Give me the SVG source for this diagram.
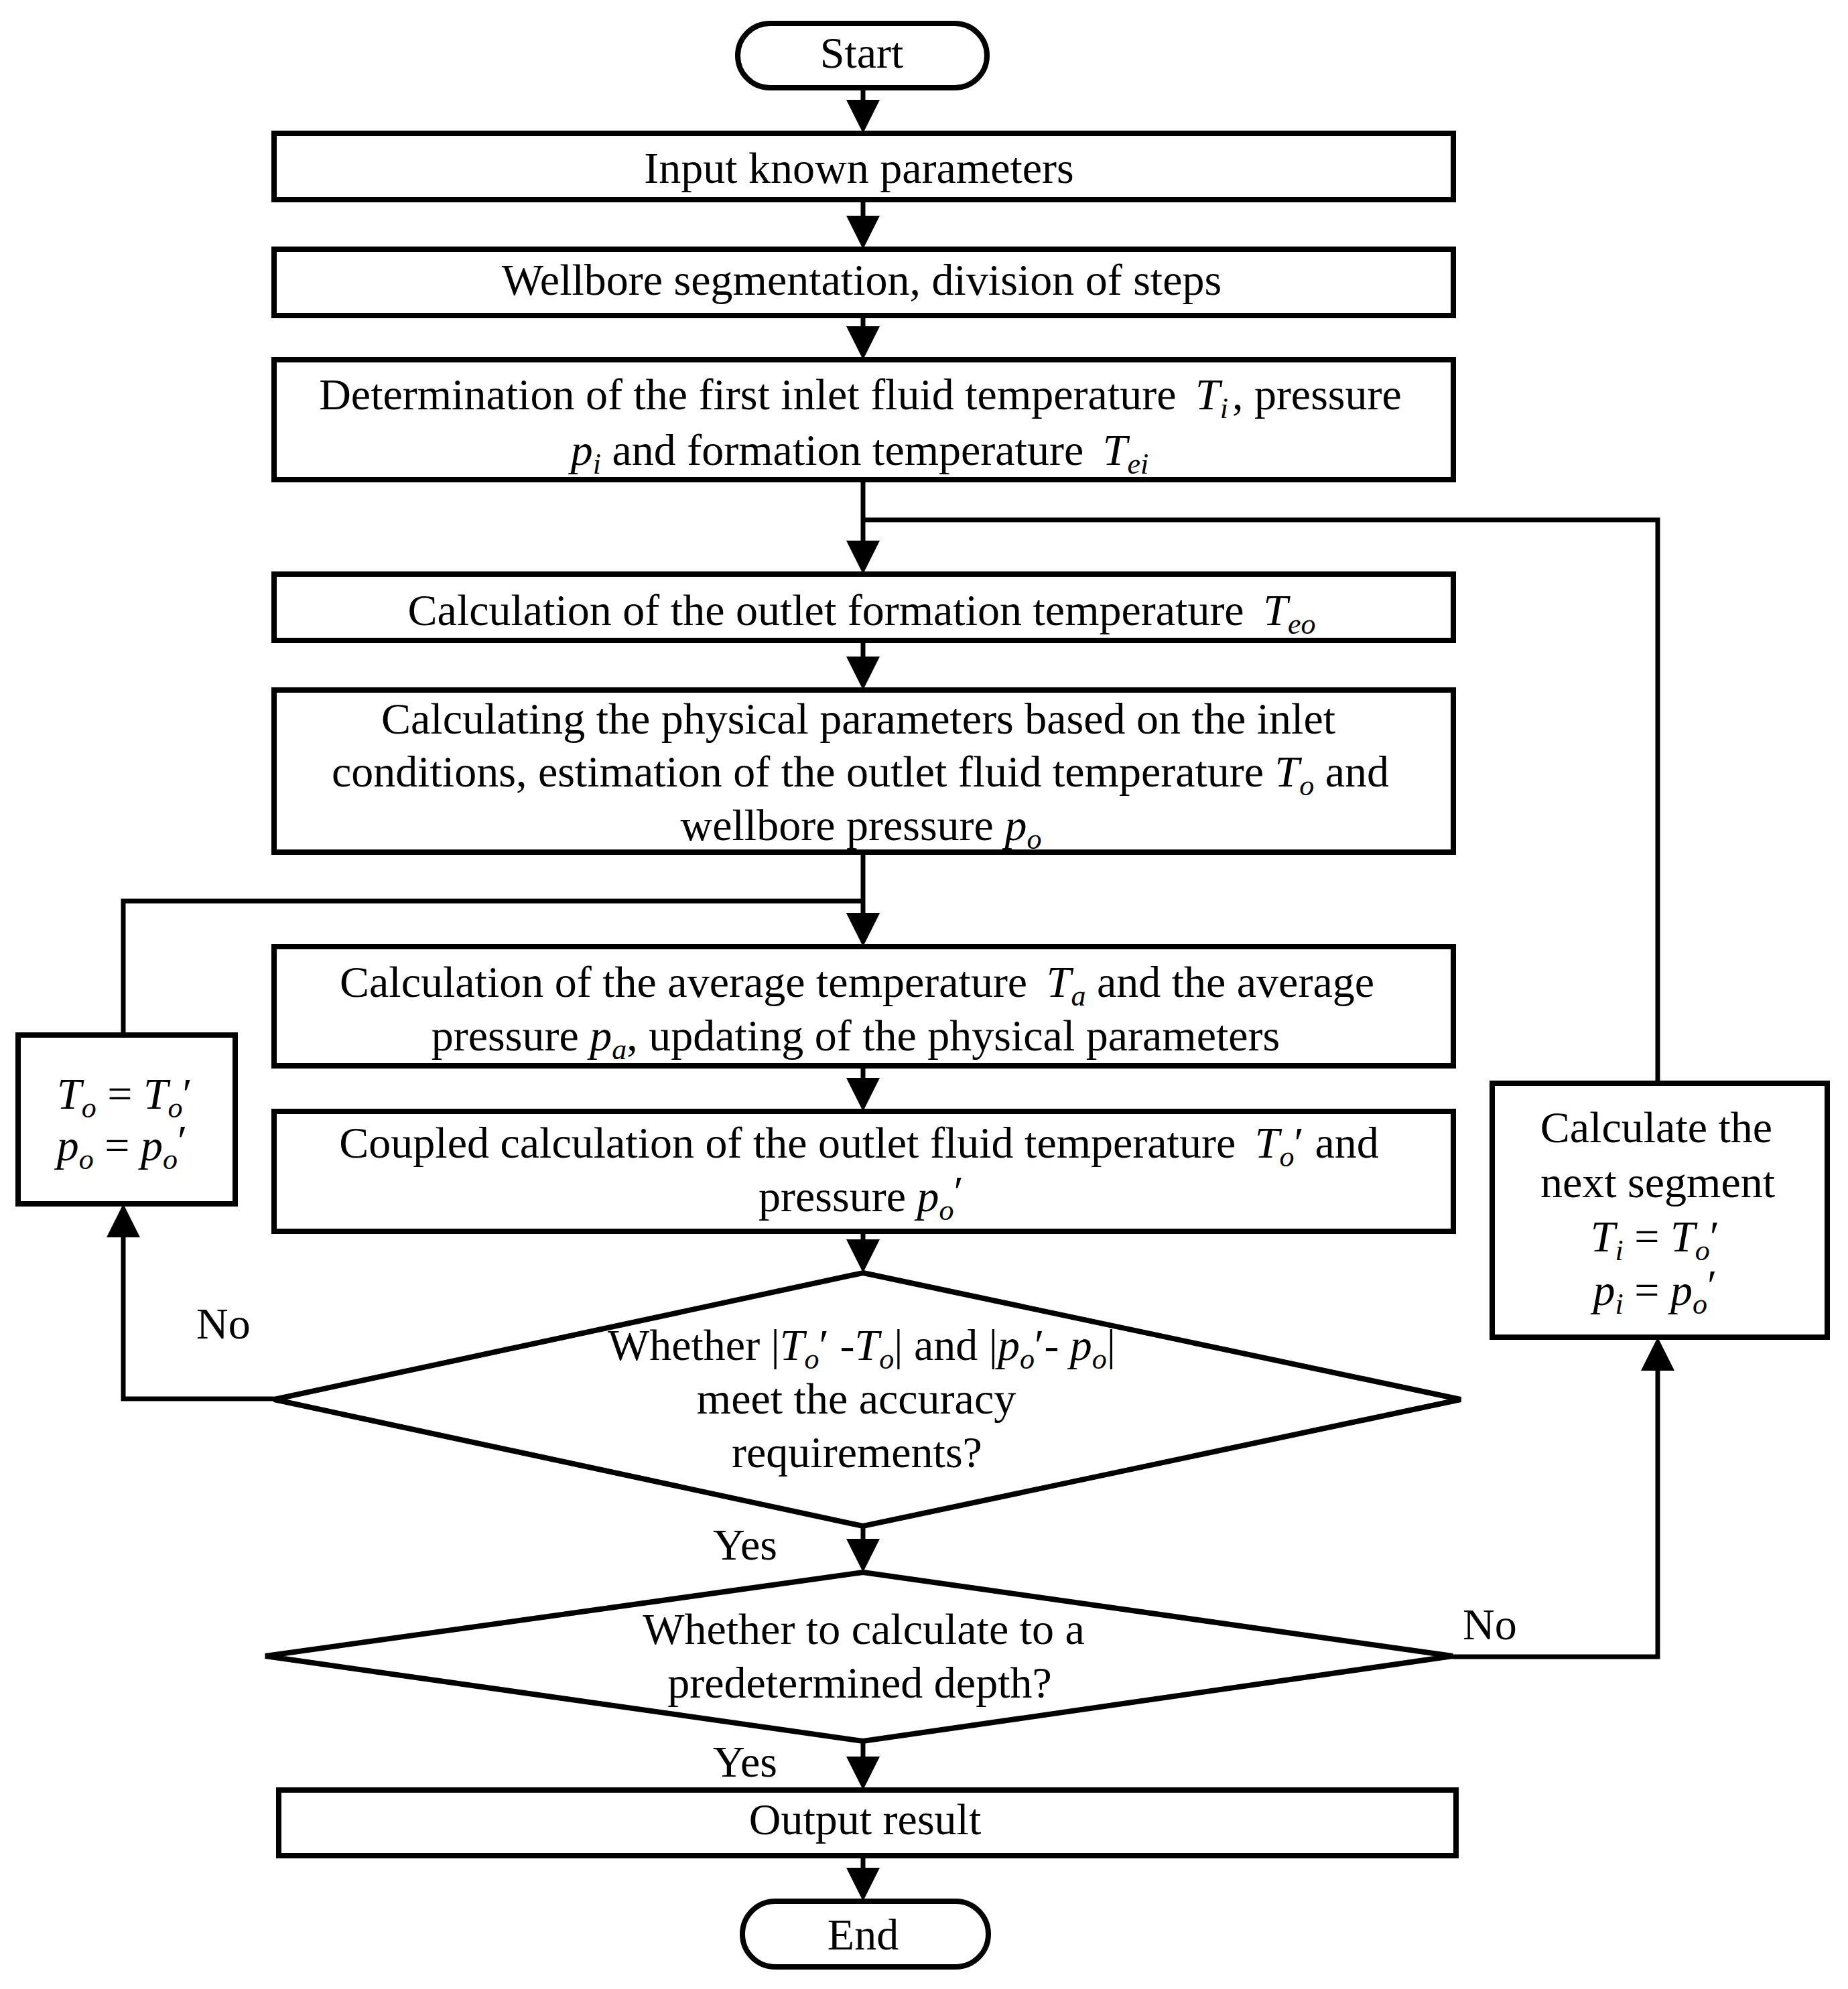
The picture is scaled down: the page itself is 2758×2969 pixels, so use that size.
<svg xmlns="http://www.w3.org/2000/svg" width="2758" height="2969" viewBox="0 0 2758 2969">
<style>
.box{fill:#fff;stroke:#000;stroke-width:8}
.t{font-family:"Liberation Serif","Times New Roman",serif;font-size:66px;fill:#000}
.i{font-style:italic}
.s{font-style:italic;font-size:44px}
.lbl{font-family:"Liberation Serif","Times New Roman",serif;font-size:66px;fill:#000}
</style>
<defs>
<marker id="ah" markerUnits="userSpaceOnUse" viewBox="0 0 50 50" markerWidth="50" markerHeight="50" refX="40" refY="25" orient="auto">
<path d="M0,0 L50,25 L0,50 Z" fill="#000"/>
</marker>
</defs>
<rect width="2758" height="2969" fill="#fff"/>

<g id="connectors" fill="none" stroke="#000" stroke-width="7">
<line x1="1288" y1="132" x2="1288" y2="189" marker-end="url(#ah)"/>
<line x1="1288" y1="298" x2="1288" y2="362" marker-end="url(#ah)"/>
<line x1="1288" y1="471" x2="1288" y2="527" marker-end="url(#ah)"/>
<line x1="1288" y1="716" x2="1288" y2="847" marker-end="url(#ah)"/>
<polyline points="2474,1617 2474,776 1288,776"/>
<line x1="1288" y1="956" x2="1288" y2="1020" marker-end="url(#ah)"/>
<line x1="1288" y1="1272" x2="1288" y2="1403" marker-end="url(#ah)"/>
<polyline points="1288,1345 184,1345 184,1545"/>
<line x1="1288" y1="1591" x2="1288" y2="1649" marker-end="url(#ah)"/>
<line x1="1288" y1="1838" x2="1288" y2="1890" marker-end="url(#ah)"/>
<polyline points="409,2088 184,2088 184,1807" marker-end="url(#ah)"/>
<line x1="1288" y1="2278" x2="1288" y2="2337" marker-end="url(#ah)"/>
<polyline points="2168,2473 2474,2473 2474,2006" marker-end="url(#ah)"/>
<line x1="1288" y1="2599" x2="1288" y2="2662" marker-end="url(#ah)"/>
<line x1="1288" y1="2770" x2="1288" y2="2828" marker-end="url(#ah)"/>
</g>

<g id="start">
<rect class="box" x="1101" y="35" width="372" height="96" rx="48" stroke-width="7"/>
<text class="t" x="1286" y="101" text-anchor="middle">Start</text>
</g>

<g id="input">
<rect class="box" x="409" y="199" width="1760" height="99"/>
<text class="t" x="1282" y="273" text-anchor="middle">Input known parameters</text>
</g>

<g id="segmentation">
<rect class="box" x="409" y="372" width="1760" height="99"/>
<text class="t" x="1286" y="440" text-anchor="middle">Wellbore segmentation, division of steps</text>
</g>

<g id="determination">
<rect class="box" x="409" y="537" width="1760" height="179"/>
<text class="t" x="1284" y="611" text-anchor="middle">Determination of the first inlet fluid temperature <tspan class="i" dx="12">T</tspan><tspan class="s" dy="13">i</tspan><tspan dy="-13" dx="6">, pressure</tspan></text>
<text class="t" x="1283" y="694" text-anchor="middle"><tspan class="i">p</tspan><tspan class="s" dy="13">i</tspan><tspan dy="-13"> and formation temperature </tspan><tspan class="i" dx="12">T</tspan><tspan class="s" dy="13">ei</tspan></text>
</g>

<g id="formation-temp">
<rect class="box" x="409" y="857" width="1760" height="99"/>
<text class="t" x="1286" y="933" text-anchor="middle">Calculation of the outlet formation temperature <tspan class="i" dx="12">T</tspan><tspan class="s" dy="13">eo</tspan></text>
</g>

<g id="physical-params">
<rect class="box" x="409" y="1030" width="1760" height="242"/>
<text class="t" x="1281" y="1095" text-anchor="middle">Calculating the physical parameters based on the inlet</text>
<text class="t" x="1284" y="1174" text-anchor="middle">conditions, estimation of the outlet fluid temperature <tspan class="i">T</tspan><tspan class="s" dy="13">o</tspan><tspan dy="-13"> and</tspan></text>
<text class="t" x="1285" y="1254" text-anchor="middle">wellbore pressure <tspan class="i">p</tspan><tspan class="s" dy="13">o</tspan></text>
</g>

<g id="average">
<rect class="box" x="409" y="1413" width="1760" height="178"/>
<text class="t" x="1279" y="1488" text-anchor="middle">Calculation of the average temperature <tspan class="i" dx="12">T</tspan><tspan class="s" dy="13">a</tspan><tspan dy="-13"> and the average</tspan></text>
<text class="t" x="1277" y="1568" text-anchor="middle">pressure <tspan class="i">p</tspan><tspan class="s" dy="13">a</tspan><tspan dy="-13">, updating of the physical parameters</tspan></text>
</g>

<g id="coupled">
<rect class="box" x="409" y="1659" width="1760" height="179"/>
<text class="t" x="1282" y="1728" text-anchor="middle">Coupled calculation of the outlet fluid temperature <tspan class="i" dx="12">T</tspan><tspan class="s" dy="13">o</tspan><tspan dy="-13">′ and</tspan></text>
<text class="t" x="1285" y="1808" text-anchor="middle">pressure <tspan class="i">p</tspan><tspan class="s" dy="13">o</tspan><tspan dy="-20">′</tspan></text>
</g>

<g id="update-outlet">
<rect class="box" x="27" y="1545" width="324" height="252" stroke-width="7"/>
<text class="t" x="186" y="1655" text-anchor="middle"><tspan class="i">T</tspan><tspan class="s" dy="13">o</tspan><tspan dy="-13"> = </tspan><tspan class="i">T</tspan><tspan class="s" dy="13">o</tspan><tspan dy="-13">′</tspan></text>
<text class="t" x="182" y="1732" text-anchor="middle"><tspan class="i">p</tspan><tspan class="s" dy="13">o</tspan><tspan dy="-13"> = </tspan><tspan class="i">p</tspan><tspan class="s" dy="13">o</tspan><tspan dy="-20">′</tspan></text>
</g>

<g id="next-segment">
<rect class="box" x="2227" y="1617" width="500" height="379"/>
<text class="t" x="2472" y="1705" text-anchor="middle">Calculate the</text>
<text class="t" x="2474" y="1787" text-anchor="middle">next segment</text>
<text class="t" x="2470" y="1868" text-anchor="middle"><tspan class="i">T</tspan><tspan class="s" dy="13">i</tspan><tspan dy="-13"> = </tspan><tspan class="i">T</tspan><tspan class="s" dy="13">o</tspan><tspan dy="-13">′</tspan></text>
<text class="t" x="2470" y="1948" text-anchor="middle"><tspan class="i">p</tspan><tspan class="s" dy="13">i</tspan><tspan dy="-13"> = </tspan><tspan class="i">p</tspan><tspan class="s" dy="13">o</tspan><tspan dy="-20">′</tspan></text>
</g>

<g id="accuracy-check">
<polygon class="box" points="1288,1900 2180,2089 1288,2278 409,2089"/>
<text class="t" x="1286" y="2030" text-anchor="middle">Whether |<tspan class="i">T</tspan><tspan class="s" dy="13">o</tspan><tspan dy="-13">′ -</tspan><tspan class="i">T</tspan><tspan class="s" dy="13">o</tspan><tspan dy="-13">|  and |</tspan><tspan class="i">p</tspan><tspan class="s" dy="13">o</tspan><tspan dy="-13">′- </tspan><tspan class="i">p</tspan><tspan class="s" dy="13">o</tspan><tspan dy="-13">|</tspan></text>
<text class="t" x="1278" y="2110" text-anchor="middle">meet the accuracy</text>
<text class="t" x="1279" y="2190" text-anchor="middle">requirements?</text>
</g>

<g id="depth-check">
<polygon class="box" points="1288,2347 2168,2472 1288,2599 396,2472"/>
<text class="t" x="1289" y="2454" text-anchor="middle">Whether to calculate to a</text>
<text class="t" x="1283" y="2534" text-anchor="middle">predetermined depth?</text>
</g>

<g id="output">
<rect class="box" x="416" y="2672" width="1757" height="98"/>
<text class="t" x="1291" y="2738" text-anchor="middle">Output result</text>
</g>

<g id="end">
<rect class="box" x="1108" y="2838" width="367" height="98" rx="49" stroke-width="7"/>
<text class="t" x="1288" y="2910" text-anchor="middle">End</text>
</g>

<g id="labels">
<text class="lbl" x="293" y="1998">No</text>
<text class="lbl" x="1064" y="2328">Yes</text>
<text class="lbl" x="2183" y="2447">No</text>
<text class="lbl" x="1064" y="2652">Yes</text>
</g>
</svg>
